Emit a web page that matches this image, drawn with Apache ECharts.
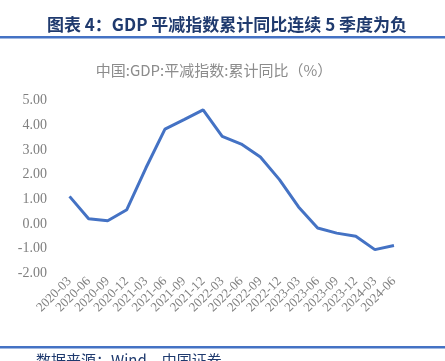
<!DOCTYPE html>
<html>
<head>
<meta charset="utf-8">
<script src="https://cdn.jsdelivr.net/npm/echarts@6/dist/echarts.min.js"></script>
<style>html,body{margin:0;padding:0;background:#fff;}#c{width:445px;height:361px;}</style>
</head>
<body>
<div id="c"></div>
<script>
const categories = ['2020-03','2020-06','2020-09','2020-12','2021-03','2021-06','2021-09','2021-12','2022-03','2022-06','2022-09','2022-12','2023-03','2023-06','2023-09','2023-12','2024-03','2024-06'];
const deflatorYoY = [1.12, 0.21, 0.13, 0.58, 2.27, 3.85, 4.23, 4.63, 3.55, 3.24, 2.72, 1.80, 0.69, -0.16, -0.37, -0.50, -1.04, -0.87];
const yTicks = {min: -2, max: 5, interval: 1};

const chart = echarts.init(document.getElementById('c'), null, {renderer: 'canvas'});
chart.setOption({
  animation: false,
  backgroundColor: '#ffffff',
  title: [
    {text: '图表 4：GDP 平减指数累计同比连续 5 季度为负', left: 222, textAlign: 'center', top: 11,
     textStyle: {fontFamily: 'Noto Sans CJK SC', fontSize: 17, fontWeight: 'bold', color: '#1f3a6e'}},
    {text: '中国:GDP:平减指数:累计同比（%）', left: 209, textAlign: 'center', top: 58,
     textStyle: {fontFamily: 'Noto Sans CJK SC', fontSize: 15, fontWeight: 'normal', color: '#8c8c8c'}}
  ],
  graphic: [
    {type: 'rect', shape: {x: 0, y: 36, width: 445, height: 2.5}, style: {fill: '#4472c4'}},
    {type: 'rect', shape: {x: 0, y: 346, width: 445, height: 2.5}, style: {fill: '#4472c4'}},
    {type: 'text', left: 36, top: 353, style: {text: '数据来源：Wind，中国证券', font: '15px "Noto Sans CJK SC"', fill: '#1f3a6e'}}
  ],
  grid: {left: 60, right: 41.5, top: 100.7, bottom: 87.7},
  xAxis: {
    type: 'category', data: categories, boundaryGap: true,
    axisLine: {show: false}, axisTick: {show: false},
    axisLabel: {rotate: 45, interval: 0, margin: 6, fontFamily: 'Liberation Serif', fontSize: 13, color: '#7f7f7f'}
  },
  yAxis: {
    type: 'value', min: yTicks.min, max: yTicks.max, interval: yTicks.interval,
    axisLine: {show: false}, axisTick: {show: false}, splitLine: {show: false},
    axisLabel: {margin: 13, fontFamily: 'Liberation Serif', fontSize: 14, color: '#7f7f7f',
      formatter: v => v.toFixed(2)}
  },
  series: [{
    type: 'line', data: deflatorYoY, symbol: 'none',
    lineStyle: {color: '#4472c4', width: 3}
  }]
});
</script>
</body>
</html>
